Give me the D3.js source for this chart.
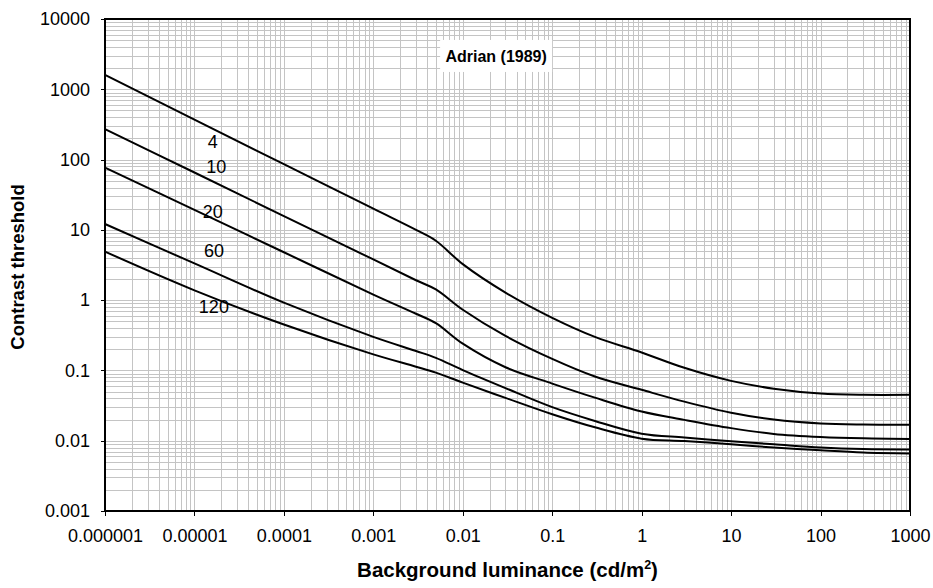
<!DOCTYPE html>
<html>
<head>
<meta charset="utf-8">
<script src="https://cdn.jsdelivr.net/npm/d3@7"></script>
<style>
  body { margin: 0; background: #fff; }
  svg { font-family: "Liberation Sans", Arial, sans-serif; }
  .grid line { stroke: #c4c4c4; stroke-width: 1; shape-rendering: crispEdges; }
  .axis path { display: none; }
  .axis line { stroke: #000; shape-rendering: crispEdges; }
  .axis text { font-size: 18px; fill: #000; }
  .curve { fill: none; stroke: #000; stroke-width: 2; }
</style>
</head>
<body>
<svg width="933" height="588"></svg>
<script>
// luminance values (cd/m2) at which each curve was read
var luminance = [1e-6, 1e-5, 1e-4, 1e-3, 0.003, 0.005, 0.01, 0.03, 0.1, 0.3, 1, 3, 10, 30, 100, 300, 1000];

// contrast threshold per curve
var c4   = [1600, 370, 86, 20, 10, 7.0, 3.25, 1.28, 0.56, 0.30, 0.180, 0.109, 0.071, 0.055, 0.047, 0.045, 0.045];
var c10  = [272, 65.5, 15.7, 3.79, 1.92, 1.42, 0.73, 0.31, 0.146, 0.082, 0.053, 0.036, 0.025, 0.020, 0.0176, 0.0170, 0.0169];
var c20  = [76.7, 19.2, 4.8, 1.2, 0.64, 0.47, 0.24, 0.111, 0.065, 0.041, 0.026, 0.0198, 0.0151, 0.0125, 0.0113, 0.0108, 0.0106];
var c60  = [12.1, 3.33, 0.92, 0.30, 0.189, 0.151, 0.101, 0.056, 0.030, 0.0191, 0.0126, 0.0111, 0.0098, 0.0089, 0.0080, 0.0076, 0.0075];
var c120 = [4.9, 1.38, 0.45, 0.169, 0.113, 0.093, 0.067, 0.0407, 0.0238, 0.0155, 0.0107, 0.0099, 0.0089, 0.0080, 0.0073, 0.0068, 0.0066];

var curveNames = ["4", "10", "20", "60", "120"];
// label anchors in data units (luminance, contrast)
var labelLum = [1.6e-5, 1.75e-5, 1.6e-5, 1.65e-5, 1.65e-5];
var labelCon = [178, 78, 18, 5.0, 0.82];

var xTicks = [1e-6, 1e-5, 1e-4, 1e-3, 1e-2, 1e-1, 1, 10, 100, 1000];
var xTickLabels = ["0.000001", "0.00001", "0.0001", "0.001", "0.01", "0.1", "1", "10", "100", "1000"];
var yTicks = [0.001, 0.01, 0.1, 1, 10, 100, 1000, 10000];
var yTickLabels = ["0.001", "0.01", "0.1", "1", "10", "100", "1000", "10000"];

var svg = d3.select("svg"),
    margin = {top: 19, right: 23, bottom: 77, left: 105},
    width = +svg.attr("width") - margin.left - margin.right,
    height = +svg.attr("height") - margin.top - margin.bottom,
    g = svg.append("g").attr("transform", "translate(" + margin.left + "," + margin.top + ")");

var x = d3.scaleLog().domain([1e-6, 1000]).range([0, width]),
    y = d3.scaleLog().domain([0.001, 10000]).range([height, 0]);

// minor + major grid values
function logGrid(lo, hi) {
  var out = [];
  for (var e = lo; e < hi; ++e) {
    for (var k = 1; k <= 9; ++k) out.push(k * Math.pow(10, e));
  }
  out.push(Math.pow(10, hi));
  return out;
}

var grid = g.append("g").attr("class", "grid");
grid.selectAll(".gx").data(logGrid(-6, 3)).enter().append("line")
    .attr("x1", function(d) { return Math.round(x(d)) + 0.5; })
    .attr("x2", function(d) { return Math.round(x(d)) + 0.5; })
    .attr("y1", 0).attr("y2", height);
grid.selectAll(".gy").data(logGrid(-3, 4)).enter().append("line")
    .attr("y1", function(d) { return Math.round(y(d)) + 0.5; })
    .attr("y2", function(d) { return Math.round(y(d)) + 0.5; })
    .attr("x1", 0).attr("x2", width);

// title box
var title = g.append("g").attr("transform", "translate(" + x(0.0236) + "," + y(2980) + ")");
title.append("rect").attr("x", -56).attr("y", -16).attr("width", 112).attr("height", 32).attr("fill", "#fff");
title.append("text").attr("text-anchor", "middle").attr("dy", "0.35em")
    .style("font-size", "16px").style("font-weight", "bold").text("Adrian (1989)");

// axes
g.append("g").attr("class", "axis")
    .attr("transform", "translate(0," + height + ")")
    .call(d3.axisBottom(x).tickValues(xTicks).tickSize(5).tickPadding(13)
      .tickFormat(function(d, i) { return xTickLabels[i]; }));

g.append("g").attr("class", "axis")
    .call(d3.axisLeft(y).tickValues(yTicks).tickSize(4).tickPadding(11)
      .tickFormat(function(d, i) { return yTickLabels[i]; }));

// frame
g.append("rect").attr("width", width).attr("height", height)
    .attr("fill", "none").attr("stroke", "#000").attr("stroke-width", 2);

// curves
var series = [c4, c10, c20, c60, c120].map(function(vals, i) {
  return { id: curveNames[i], values: vals.map(function(v, j) { return {lum: luminance[j], c: v}; }) };
});

var line = d3.line()
    .curve(d3.curveCatmullRom.alpha(0.5))
    .x(function(d) { return x(d.lum); })
    .y(function(d) { return y(d.c); });

g.selectAll(".curve").data(series).enter().append("path")
    .attr("class", "curve")
    .attr("d", function(d) { return line(d.values); });

g.selectAll(".clabel").data(curveNames).enter().append("text")
    .attr("class", "clabel")
    .attr("x", function(d, i) { return x(labelLum[i]); })
    .attr("y", function(d, i) { return y(labelCon[i]); })
    .attr("dy", "0.35em")
    .attr("text-anchor", "middle")
    .style("font-size", "18px")
    .text(function(d) { return d; });

// axis titles
var xt = svg.append("text")
    .attr("x", margin.left + width / 2)
    .attr("y", 577)
    .attr("text-anchor", "middle")
    .style("font-size", "20.5px").style("font-weight", "bold");
xt.append("tspan").text("Background luminance (cd/m");
xt.append("tspan").attr("dy", "-8").style("font-size", "12.5px").text("2");
xt.append("tspan").attr("dy", "8").text(")");

svg.append("text")
    .attr("transform", "translate(24," + (margin.top + height / 2 + 2) + ") rotate(-90)")
    .attr("text-anchor", "middle")
    .style("font-size", "18.5px").style("font-weight", "bold")
    .text("Contrast threshold");
</script>
</body>
</html>
